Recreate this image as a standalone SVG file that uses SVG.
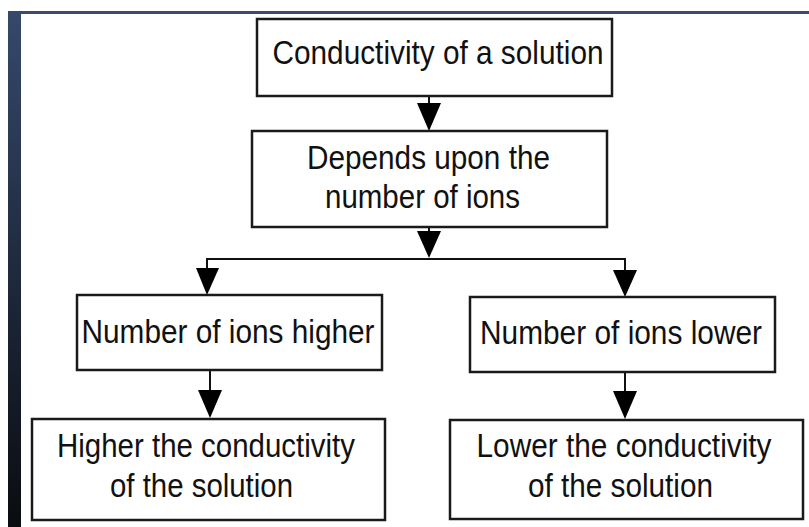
<svg xmlns="http://www.w3.org/2000/svg" width="809" height="527" viewBox="0 0 809 527">
<defs>
<linearGradient id="strip" x1="0" y1="0" x2="0" y2="1">
<stop offset="0" stop-color="#36496b"/>
<stop offset="0.5" stop-color="#1f2a3d"/>
<stop offset="1" stop-color="#0a0c10"/>
</linearGradient>
<style>
.box{fill:#fff;stroke:#1a1a1a;stroke-width:2.5}
.t{font-family:"Liberation Sans",Arial,sans-serif;font-size:33px;fill:#111;text-anchor:middle}
.c{fill:none;stroke:#111;stroke-width:2}
.h{fill:#000}
</style>
</defs>
<rect width="809" height="527" fill="#fff"/>
<rect x="8" y="11" width="801" height="3" fill="#3a4d6e"/>
<rect x="8" y="11" width="13" height="516" fill="url(#strip)"/>
<g id="connectors">
<path class="c" d="M429,96 V103"/>
<path class="h" d="M417,103 L441,103 L429,131 Z"/>
<path class="c" d="M429,227 V235"/>
<path class="h" d="M417,231 L441,231 L429,258 Z"/>
<path class="c" d="M207,259 H625"/>
<path class="c" d="M207,258 V268"/>
<path class="h" d="M196,268 L219,268 L207,295 Z"/>
<path class="c" d="M625,258 V270"/>
<path class="h" d="M613,270 L637,270 L625,297 Z"/>
<path class="c" d="M210,370 V392"/>
<path class="h" d="M198,390 L222,390 L210,418 Z"/>
<path class="c" d="M625,372 V392"/>
<path class="h" d="M613,391 L637,391 L625,419 Z"/>
</g>
<g id="n1">
<rect class="box" x="257" y="19" width="355" height="77"/>
<text class="t" x="438" y="64" textLength="331" lengthAdjust="spacingAndGlyphs">Conductivity of a solution</text>
</g>
<g id="n2">
<rect class="box" x="252" y="131" width="355" height="96"/>
<text class="t" x="428.5" y="169" textLength="243" lengthAdjust="spacingAndGlyphs">Depends upon the</text>
<text class="t" x="422.5" y="208" textLength="195" lengthAdjust="spacingAndGlyphs">number of ions</text>
</g>
<g id="n3">
<rect class="box" x="77" y="295" width="305" height="75"/>
<text class="t" x="228" y="343" textLength="293" lengthAdjust="spacingAndGlyphs">Number of ions higher</text>
</g>
<g id="n4">
<rect class="box" x="470" y="297" width="305" height="75"/>
<text class="t" x="621" y="344" textLength="282" lengthAdjust="spacingAndGlyphs">Number of ions lower</text>
</g>
<g id="n5">
<rect class="box" x="32" y="419" width="353" height="101"/>
<text class="t" x="206" y="457" textLength="298" lengthAdjust="spacingAndGlyphs">Higher the conductivity</text>
<text class="t" x="201.5" y="497" textLength="183" lengthAdjust="spacingAndGlyphs">of the solution</text>
</g>
<g id="n6">
<rect class="box" x="450" y="420" width="353" height="99"/>
<text class="t" x="624" y="457" textLength="295" lengthAdjust="spacingAndGlyphs">Lower the conductivity</text>
<text class="t" x="620.5" y="497" textLength="185" lengthAdjust="spacingAndGlyphs">of the solution</text>
</g>
</svg>
